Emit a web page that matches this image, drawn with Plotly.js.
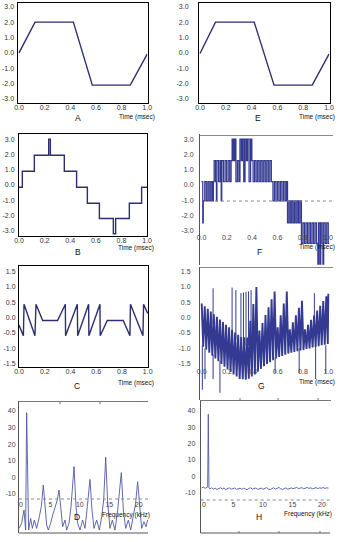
<!DOCTYPE html>
<html><head><meta charset="utf-8">
<script src="https://cdn.plot.ly/plotly-3.0.1.min.js"></script>
<style>html,body{margin:0;padding:0;background:#fff;}#chart{width:349px;height:542px;}</style>
</head><body><div id="chart"></div>
<script>
// ---------- tick labels ----------
const timeTicks = [0, 0.2, 0.4, 0.6, 0.8, 1.0];
const timeTickText = ["0.0", "0.2", "0.4", "0.6", "0.8", "1.0"];
const ticks3 = [3, 2, 1, 0, -1, -2, -3];
const ticks3Text = ["3.0", "2.0", "1.0", "0.0", "-1.0", "-2.0", "-3.0"];
const ticks15 = [1.5, 1, 0.5, 0, -0.5, -1, -1.5];
const ticks15Text = ["1.5", "1.0", "0.5", "0.0", "-0.5", "-1.0", "-1.5"];
const dbTicks = [40, 30, 20, 10, 0, -10];
const dbTickText = ["40", "30", "20", "10", "0", "-10"];
const freqTicks = [0, 5, 10, 15, 20];
const freqTickText = ["0", "5", "10", "15", "20"];

// ---------- A : trapezoid ----------
const A_t = [0, 0.125, 0.424, 0.572, 0.868, 1.0];
const A_v = [0.0, 2.0, 2.0, -2.1, -2.1, -0.08];
// ---------- E : trapezoid ----------
const E_t = [0, 0.12, 0.42, 0.574, 0.87, 1.0];
const E_v = [-0.04, 2.0, 2.0, -2.1, -2.1, -0.08];
// ---------- B : staircase ----------
const B_t = [0, 0.026, 0.12, 0.232, 0.245, 0.354, 0.45, 0.534, 0.628, 0.737, 0.755, 0.862, 0.958, 1.0];
const B_v = [-0.15, 0.9, 1.95, 3.0, 1.95, 0.9, -0.15, -1.2, -2.2, -3.2, -2.2, -1.2, -0.15, -0.15];
// ---------- C : error signal ----------
const C_t = [0, 0.034, 0.039, 0.124, 0.132, 0.184, 0.30, 0.36, 0.362, 0.453, 0.456, 0.541, 0.543, 0.629, 0.631, 0.686, 0.81, 0.862, 0.866, 0.963, 0.968, 1.0];
const C_v = [-0.24, -0.59, 0.44, -0.59, 0.44, -0.09, -0.09, 0.44, -0.59, 0.44, -0.59, 0.44, -0.59, 0.44, -0.59, -0.09, -0.09, -0.59, 0.44, -0.59, 0.44, 0.14];
// ---------- F : PWM staircase (switch times, level after switch) ----------
const F_t = [0.000,0.010,0.014,0.026,0.038,0.050,0.061,0.073,0.084,0.094,0.100,
0.111,0.118,0.122,0.135,0.147,0.156,0.160,0.173,0.186,0.198,0.211,0.223,0.234,0.242,
0.252,0.262,0.272,0.284,0.296,0.304,0.315,0.323,0.334,0.344,0.355,0.364,0.376,0.388,0.398,0.408,0.420,0.432,0.444,0.456,
0.468,0.480,0.492,0.504,0.516,0.528,0.540,0.552,0.565,
0.577,0.589,0.601,0.613,0.625,0.637,0.649,0.661,0.672,0.680,
0.691,0.702,0.713,0.724,0.735,0.746,0.757,0.768,0.779,0.790,
0.802,0.814,0.826,0.838,0.850,0.862,0.874,0.886,0.898,0.910,0.920,0.926,0.937,0.943,0.954,0.960,0.966,0.978,0.990,1.002,1.010];
const F_v = [0.22,-2.48,-1.05,0.22,-1.05,0.22,-1.05,0.22,-1.05,0.22,1.60,
0.22,-1.05,1.60,0.22,1.60,-1.05,1.60,0.22,1.60,0.22,1.60,0.22,1.60,3.02,
1.60,3.02,0.22,1.60,0.22,3.02,1.60,3.02,0.22,3.02,1.60,3.02,0.22,3.02,1.60,0.22,1.60,0.22,1.60,0.22,
1.60,0.22,1.60,0.22,1.60,0.22,1.60,0.22,-1.05,
0.22,-1.05,0.22,-1.05,0.22,-1.05,0.22,-1.05,0.22,-2.48,
-1.05,-2.48,-1.05,-2.48,-1.05,-2.48,-1.05,-2.48,-1.05,-3.83,
-2.48,-3.83,-2.48,-3.83,-2.48,-3.83,-2.48,-3.83,-2.48,-3.83,-5.19,-2.48,-5.19,-2.48,-3.83,-5.19,-2.48,-3.83,-2.48,-3.83,-3.83];
// ---------- G : PWM error signal (zigzag vertices) ----------
const G_t = [0.000,0.012,0.024,0.036,0.048,0.060,0.072,0.084,0.096,0.108,0.120,0.132,0.144,0.156,0.168,0.180,0.192,0.204,0.216,0.228,
0.240,0.252,0.264,0.276,0.288,0.300,0.312,0.324,0.336,0.348,0.360,0.372,0.384,0.396,0.408,0.420,0.432,0.444,0.456,0.468,
0.480,0.492,0.504,0.516,0.528,0.540,0.552,0.564,0.576,0.588,0.600,0.612,0.624,0.636,0.648,0.660,0.672,0.684,0.696,0.708,
0.720,0.732,0.744,0.756,0.768,0.780,0.792,0.804,0.816,0.828,0.840,0.852,0.864,0.876,0.888,0.900,0.912,0.924,0.936,0.948,
0.960,0.972,0.984,0.996,1.000];
const G_v = [0.46,-0.95,0.37,-1.04,0.29,-1.14,0.20,-1.24,0.11,-1.33,0.03,-1.42,-0.06,-1.51,-0.14,-1.60,-0.23,-1.69,-0.31,-1.77,
-0.39,-1.85,-0.48,-1.92,-0.56,-2.00,-0.63,-2.01,-0.64,-2.02,-0.65,-1.99,-0.10,-1.92,0.45,-1.85,1.00,-1.76,-0.42,-1.67,
-0.17,-1.58,0.09,-1.51,0.34,-1.45,0.60,-1.39,0.85,-1.33,-0.31,-1.28,0.08,-1.25,0.46,-1.21,0.85,-1.17,-0.38,-1.14,
-0.15,-1.12,0.08,-1.09,0.32,-1.07,0.55,-1.05,-0.38,-1.02,-0.23,-1.00,-0.07,-0.97,0.08,-0.95,0.23,-0.93,0.39,-0.90,
0.54,-0.88,0.70,-0.86,0.78];
// isolated long switching strokes in G
const G_spk_t  = [0.005, 0.026, 0.09, 0.09, 0.144, 0.24, 0.27, 0.31, 0.33, 0.35, 0.37, 0.39, 0.58, 0.77, 0.89, 0.90, 0.98];
const G_spk_lo = [-2.35, -2.0, -2.0, -0.2, -2.45, -0.6, -0.7, -0.9, -0.9, -0.9, -0.9, -0.9, -1.8, -1.8, -0.5, -2.0, -1.8];
const G_spk_hi = [-0.9, -1.0, -1.2, 0.96, -1.4, 0.98, 0.90, 0.80, 0.82, 0.84, 0.86, 0.90, -1.3, -1.0, 0.80, -0.9, -0.9];
// ---------- D : spectrum of staircase ----------
const D_freq = [-0.34,0.11,0.51,0.79,0.96,1.30,1.64,1.93,2.27,2.66,3.12,3.45,3.79,4.08,4.36,4.64,5.04,5.38,5.78,6.17,6.46,6.80,7.08,7.48,7.76,8.16,8.50,9.01,9.35,9.63,10.03,10.48,10.87,11.27,11.72,12.06,12.40,12.86,13.31,13.71,14.05,14.39,14.73,15.12,15.52,15.97,16.37,17.05,17.39,17.79,18.24,18.64,19.09,19.48,19.82,20.16,20.50,20.90,21.24,21.52];
const D_db = [-30.7,-27.6,-19.6,-31.7,39.0,-31.7,-24.7,-30.7,-25.7,-30.7,-23.7,-17.6,-4.6,-19.6,-28.7,-31.7,-27.6,-22.7,-17.6,-13.6,-7.6,-19.6,-29.7,-25.7,-31.7,-27.6,-17.6,6.5,-17.6,-27.6,-31.7,-25.7,-30.7,-17.6,-1.2,-19.6,-30.7,-25.7,-31.7,-23.7,-13.6,12.1,-15.6,-30.7,-25.7,-31.7,-21.6,2.9,-19.6,-30.7,-25.7,-31.7,-22.7,-15.6,-2.6,-19.6,-30.7,-26.7,-29.7,-25.7];
// ---------- H : spectrum of PWM output ----------
const H_freq = [-0.39,-0.1,0.2,0.45,0.62,0.73,0.84,1.0,1.3,1.6,1.9,2.2,2.5,2.8,3.1,3.4,3.7,4.0,4.3,4.6,4.9,5.2,5.5,5.8,6.1,6.4,6.7,7.0,7.3,7.6,7.9,8.2,8.5,8.8,9.1,9.4,9.7,10.0,10.3,10.6,10.9,11.2,11.5,11.8,12.1,12.4,12.7,13.0,13.3,13.6,13.9,14.2,14.5,14.8,15.1,15.4,15.7,16.0,16.3,16.6,16.9,17.2,17.5,17.8,18.1,18.4,18.7,19.0,19.3,19.6,19.9,20.2,20.5,20.8,21.1];
const H_db = [-7.0,-6.6,-7.3,-7.0,-6.5,38.0,-7.2,-7.6,-7.0,-7.8,-7.3,-8.0,-7.4,-7.0,-7.7,-7.2,-8.1,-7.5,-7.0,-7.9,-7.4,-7.1,-8.0,-7.6,-7.2,-7.9,-7.3,-7.7,-8.2,-7.4,-7.0,-7.8,-7.5,-7.1,-8.0,-7.6,-7.2,-7.9,-7.4,-6.9,-7.7,-8.1,-7.5,-7.0,-7.8,-7.3,-6.8,-7.6,-8.0,-7.4,-7.1,-7.9,-7.5,-7.0,-7.6,-7.2,-6.8,-7.5,-7.1,-6.9,-7.6,-7.2,-6.8,-7.4,-7.0,-7.6,-7.1,-6.9,-7.5,-7.0,-7.3,-6.8,-7.4,-7.0,-7.2];

// ---------- geometry helpers (pixels -> paper) ----------
const W = 349, H = 542;
const FONT = "Liberation Sans, Arial, sans-serif";
function dx(l, r) { return [l / W, r / W]; }
function dy(t, b) { return [1 - b / H, 1 - t / H]; }
function px(x) { return x / W; }
function py(y) { return 1 - y / H; }
function rng(p0, p1, a, b) { const s = (b[1] - a[1]) / (b[0] - a[0]); return [a[1] + (p0 - a[0]) * s, a[1] + (p1 - a[0]) * s]; }
const tickFont = { family: FONT, size: 7, color: "#333" };
const scanTickFont = { family: FONT, size: 7, color: "#444" };

function frameX(dom, refA, refB, anchor, tv, tt) {
  return { domain: dx(dom[0], dom[1]), range: rng(dom[0], dom[1], refA, refB), anchor: anchor,
    showline: true, mirror: true, linecolor: "#000", linewidth: 1, showgrid: false, zeroline: false,
    ticks: "", tickvals: tv, ticktext: tt, tickfont: tickFont, ticklabelstandoff: -2, fixedrange: true };
}
function frameY(dom, refA, refB, anchor, tv, tt, standoff) {
  return { domain: dy(dom[0], dom[1]), range: rng(dom[1], dom[0], refA, refB), anchor: anchor,
    showline: true, mirror: true, linecolor: "#000", linewidth: 1, showgrid: false, zeroline: false,
    ticks: "", tickvals: tv, ticktext: tt, tickfont: tickFont, ticklabelstandoff: standoff, fixedrange: true };
}
function scanX(dom, refA, refB, posPx, tv, tt) {
  return { domain: dx(dom[0], dom[1]), range: rng(dom[0], dom[1], refA, refB), anchor: "free", position: py(posPx),
    showline: false, showgrid: false, zeroline: false, ticks: "", tickvals: tv, ticktext: tt, tickfont: scanTickFont, fixedrange: true };
}
function scanY(dom, refA, refB, anchor, tv, tt, standoff) {
  return { domain: dy(dom[0], dom[1]), range: rng(dom[1], dom[0], refA, refB), anchor: anchor,
    showline: true, mirror: false, linecolor: "#555", linewidth: 1, showgrid: false, zeroline: false,
    ticks: "", tickvals: tv, ticktext: tt, tickfont: scanTickFont, ticklabelstandoff: standoff, fixedrange: true };
}

const NAVY = "#2d2f72";
const SCAN = "#343a92";
const SPEC = "#5058a2";

// spikes of G as separate segments
const gsx = [], gsy = [];
G_spk_t.forEach((t, i) => { gsx.push(t, t, null); gsy.push(G_spk_lo[i], G_spk_hi[i], null); });

const data = [
  { x: A_t, y: A_v, xaxis: "x", yaxis: "y", mode: "lines", line: { color: NAVY, width: 1.4 } },
  { x: E_t, y: E_v, xaxis: "x2", yaxis: "y2", mode: "lines", line: { color: NAVY, width: 1.4 } },
  { x: B_t, y: B_v, xaxis: "x3", yaxis: "y3", mode: "lines", line: { color: NAVY, width: 1.4, shape: "hv" } },
  { x: F_t, y: F_v, xaxis: "x4", yaxis: "y4", mode: "lines", line: { color: SCAN, width: 1.25, shape: "hv" } },
  { x: C_t, y: C_v, xaxis: "x5", yaxis: "y5", mode: "lines", line: { color: NAVY, width: 1.4 } },
  { x: G_t, y: G_v, xaxis: "x6", yaxis: "y6", mode: "lines", line: { color: SCAN, width: 1.9 } },
  { x: gsx, y: gsy, xaxis: "x6", yaxis: "y6", mode: "lines", line: { color: SCAN, width: 1 }, connectgaps: false },
  { x: D_freq, y: D_db, xaxis: "x7", yaxis: "y7", mode: "lines", line: { color: SPEC, width: 0.9 } },
  { x: H_freq, y: H_db, xaxis: "x8", yaxis: "y8", mode: "lines", line: { color: SPEC, width: 0.9 } }
];

function ann(text, x, y, size) {
  return { text: text, x: px(x), y: py(y), xref: "paper", yref: "paper", showarrow: false,
    xanchor: "center", yanchor: "middle", font: { family: FONT, size: size, color: "#111" } };
}
function hline(x0, x1, y, color, dash, width) {
  return { type: "line", xref: "paper", yref: "paper", x0: px(x0), x1: px(x1), y0: py(y), y1: py(y),
    line: { color: color, width: width || 1, dash: dash || "solid" } };
}
function vtick(x, y0, y1, color) {
  return { type: "line", xref: "paper", yref: "paper", x0: px(x), x1: px(x), y0: py(y0), y1: py(y1), line: { color: color, width: 1 } };
}

const layout = {
  width: W, height: H, margin: { l: 0, r: 0, t: 0, b: 0 }, showlegend: false,
  paper_bgcolor: "#fff", plot_bgcolor: "rgba(0,0,0,0)", font: { family: FONT },
  // A
  xaxis:  frameX([17.5, 147.5], [19, 0], [147.2, 1], "y", timeTicks, timeTickText),
  yaxis:  frameY([3.3, 103], [6.7, 3], [99, -3], "x", ticks3, ticks3Text, 1),
  // E
  xaxis2: frameX([199, 329.5], [200, 0], [329, 1], "y2", timeTicks, timeTickText),
  yaxis2: frameY([3.3, 103], [6.7, 3], [99, -3], "x2", ticks3, ticks3Text, 8),
  // B
  xaxis3: frameX([19, 147], [19, 0], [147, 1], "y3", timeTicks, timeTickText),
  yaxis3: frameY([134, 236], [139.3, 3], [230.7, -3], "x3", ticks3, ticks3Text, 2),
  // F
  xaxis4: scanX([200, 335], [201.5, 0], [328, 1], 232, timeTicks, timeTickText),
  yaxis4: scanY([134, 265], [139.3, 3], [230.7, -3], "x4", ticks3, ticks3Text, 4),
  // C
  xaxis5: frameX([19, 148], [19, 0], [147.7, 1], "y5", timeTicks, timeTickText),
  yaxis5: frameY([266, 367], [271.7, 1.5], [363.7, -1.5], "x5", ticks15, ticks15Text, 1),
  // G
  xaxis6: scanX([200, 335], [201.7, 0], [328.3, 1], 366, timeTicks, timeTickText),
  yaxis6: scanY([267, 400], [271.7, 1.5], [363.7, -1.5], "x6", ticks15, ticks15Text, 7),
  // D
  xaxis7: scanX([19, 148], [21, 0], [138.7, 20], 499, freqTicks, freqTickText),
  yaxis7: scanY([401, 533], [411, 40], [494, -10], "x7", dbTicks, dbTickText, 1),
  // H
  xaxis8: scanX([200.7, 330], [204, 0], [322, 20], 499, freqTicks, freqTickText),
  yaxis8: scanY([400, 533], [411, 40], [492.7, -10], "x8", dbTicks, dbTickText, 3),
  annotations: [
    ann("Time (msec)", 136.5, 116.5, 6.5), ann("A", 77.5, 118, 8.5),
    ann("Time (msec)", 317, 116.5, 6.5), ann("E", 257.7, 118, 8.5),
    ann("Time (msec)", 136.3, 247.8, 6.5), ann("B", 77.7, 252, 8.5),
    ann("Time (msec)", 316.5, 247, 6.5), ann("F", 259, 251.7, 8.5),
    ann("Time (msec)", 136, 382.5, 6.5), ann("C", 76.7, 386, 8.5),
    ann("Time (msec)", 317.3, 382, 6.5), ann("G", 261, 386, 8.5),
    ann("Frequency (kHz)", 126, 514.5, 6.5), ann("D", 77, 517, 8.5),
    ann("Frequency (kHz)", 307.5, 513.5, 6.5), ann("H", 259, 517, 8.5)
  ],
  shapes: [
    // F scan frame
    hline(200, 333, 135.5, "#8a8a8a"), hline(215, 335, 201, "#8a8a8a", "dot"),
    // G scan frame
    hline(200, 333, 267.5, "#8a8a8a"), hline(200, 331, 400.5, "#777"),
    vtick(240, 400.5, 398, "#777"), vtick(278, 400.5, 398, "#777"), vtick(318, 400.5, 398, "#777"),
    // D scan frame
    hline(19, 148, 401.5, "#777"), hline(19, 148, 533, "#555"), hline(19, 148, 499, "#8a8a8a", "dot"),
    vtick(60, 401.5, 404, "#777"), vtick(100, 401.5, 404, "#777"),
    // H scan frame
    hline(200.7, 330, 533, "#555"), hline(200.7, 330, 500, "#8a8a8a", "dot"),
    vtick(239, 533, 531, "#777"), vtick(279, 533, 531, "#777"), vtick(320, 533, 531, "#777")
  ]
};

Plotly.newPlot("chart", data, layout, { staticPlot: true, displayModeBar: false });
</script></body></html>
